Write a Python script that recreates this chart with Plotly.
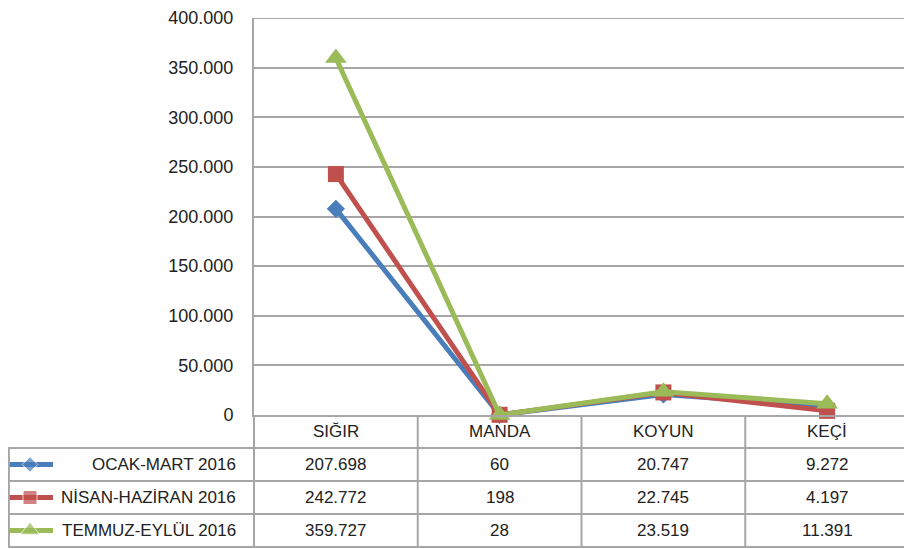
import plotly.graph_objects as go

categories = ["SIĞIR", "MANDA", "KOYUN", "KEÇİ"]
series_names = ["OCAK-MART 2016", "NİSAN-HAZİRAN 2016", "TEMMUZ-EYLÜL 2016"]
ocak_mart = [207698, 60, 20747, 9272]
nisan_haziran = [242772, 198, 22745, 4197]
temmuz_eylul = [359727, 28, 23519, 11391]
y_ticks = [0, 50000, 100000, 150000, 200000, 250000, 300000, 350000, 400000]

series = [ocak_mart, nisan_haziran, temmuz_eylul]
colors = ["#4A7EBB", "#C0504D", "#9BBB59"]
symbols = ["diamond", "square", "triangle-up"]
msizes = [14, 16, 19]

W, H = 912, 549
OFF = 8  # page body margin, the figure sits 8px in from the corner
FONT = "Liberation Sans, Arial, sans-serif"
GRID = "#A6A6A6"
TXT = "#222222"

# table geometry (screen pixels)
left_x = 3
axis_x = 254
right_x = 909
top_y = 18
axis_y = 415
row_lines = [448, 481, 514, 547]


def px(x):
    return (x - OFF) / W


def py(y):
    return 1 - (y - OFF) / H


def fmt(v):
    return f"{v:,}".replace(",", ".")


fig = go.Figure(layout=dict(template="none"))

for name, vals, c, s, ms in zip(series_names, series, colors, symbols, msizes):
    fig.add_trace(go.Scatter(
        x=categories, y=vals, name=name, mode="lines+markers",
        line=dict(color=c, width=5),
        marker=dict(symbol=s, size=ms, color=c),
        showlegend=False, cliponaxis=False,
    ))

col_w = (right_x - axis_x) / len(categories)
shapes = []
annotations = []
line_style = dict(color=GRID, width=2)

# top gridline (plotly drops the one sitting on the edge of the plot area)
shapes.append(dict(type="line", xref="x domain", yref="y", layer="below",
                   x0=0, x1=1, y0=y_ticks[-1], y1=y_ticks[-1], line=line_style))

# vertical table lines
for i in range(len(categories) + 1):
    x = axis_x + i * col_w
    shapes.append(dict(type="line", xref="paper", yref="paper",
                       x0=px(x), x1=px(x), y0=py(axis_y), y1=py(row_lines[-1]),
                       line=line_style))
shapes.append(dict(type="line", xref="paper", yref="paper",
                   x0=max(px(left_x), 0.001), x1=max(px(left_x), 0.001),
                   y0=py(row_lines[0]), y1=py(row_lines[-1]), line=line_style))
# horizontal table lines
for y in row_lines:
    shapes.append(dict(type="line", xref="paper", yref="paper",
                       x0=px(left_x), x1=px(right_x), y0=py(y), y1=py(y),
                       line=line_style))

cell_font = dict(size=17, color=TXT, family=FONT)

# header row
for i, cat in enumerate(categories):
    annotations.append(dict(text=cat, xref="paper", yref="paper",
                            x=px(axis_x + (i + 0.5) * col_w), y=py((axis_y + row_lines[0]) / 2),
                            xanchor="center", yanchor="middle",
                            showarrow=False, font=cell_font))

# data rows + legend keys
for r, (name, vals, c, s, ms) in enumerate(zip(series_names, series, colors, symbols, msizes)):
    yc = (row_lines[r] + row_lines[r + 1]) / 2
    annotations.append(dict(text=name, xref="paper", yref="paper",
                            x=px(238), y=py(yc), xanchor="right", yanchor="middle",
                            showarrow=False, font=cell_font))
    for i, v in enumerate(vals):
        annotations.append(dict(text=fmt(v), xref="paper", yref="paper",
                                x=px(axis_x + (i + 0.5) * col_w), y=py(yc),
                                xanchor="center", yanchor="middle",
                                showarrow=False, font=cell_font))
    fig.add_trace(go.Scatter(
        x=[8, 30, 53], y=[yc, yc, yc], xaxis="x2", yaxis="y2",
        mode="lines+markers", line=dict(color=c, width=5),
        marker=dict(symbol=s, size=[0, ms - 2, 0], color=c),
        showlegend=False, hoverinfo="skip",
    ))

fig.update_layout(
    width=W, height=H, autosize=False,
    margin=dict(l=0, r=0, t=0, b=0, pad=0),
    paper_bgcolor="white", plot_bgcolor="rgba(0,0,0,0)",
    separators=",.",
    font=dict(family=FONT, size=17, color=TXT),
    shapes=shapes, annotations=annotations,
    xaxis=dict(domain=[px(axis_x), px(right_x)], range=[-0.5, 3.5],
               showticklabels=False, showgrid=False, zeroline=False, automargin=False,
               showline=True, linecolor=GRID, linewidth=2, ticks=""),
    yaxis=dict(domain=[py(axis_y), py(top_y)], range=[0, 400000],
               tickvals=y_ticks, tickformat=",d", automargin=False,
               ticklabeloverflow="allow",
               showgrid=True, gridcolor=GRID, gridwidth=2,
               zeroline=False, showline=True, linecolor=GRID, linewidth=2,
               ticks="outside", ticklen=0, ticklabelstandoff=15,
               tickfont=dict(size=18, color=TXT, family=FONT)),
    xaxis2=dict(domain=[0, 1], range=[OFF, W + OFF], visible=False,
                anchor="y2", automargin=False),
    yaxis2=dict(domain=[0, 1], range=[H + OFF, OFF], visible=False,
                anchor="x2", automargin=False),
)

fig.write_html("out.html")
